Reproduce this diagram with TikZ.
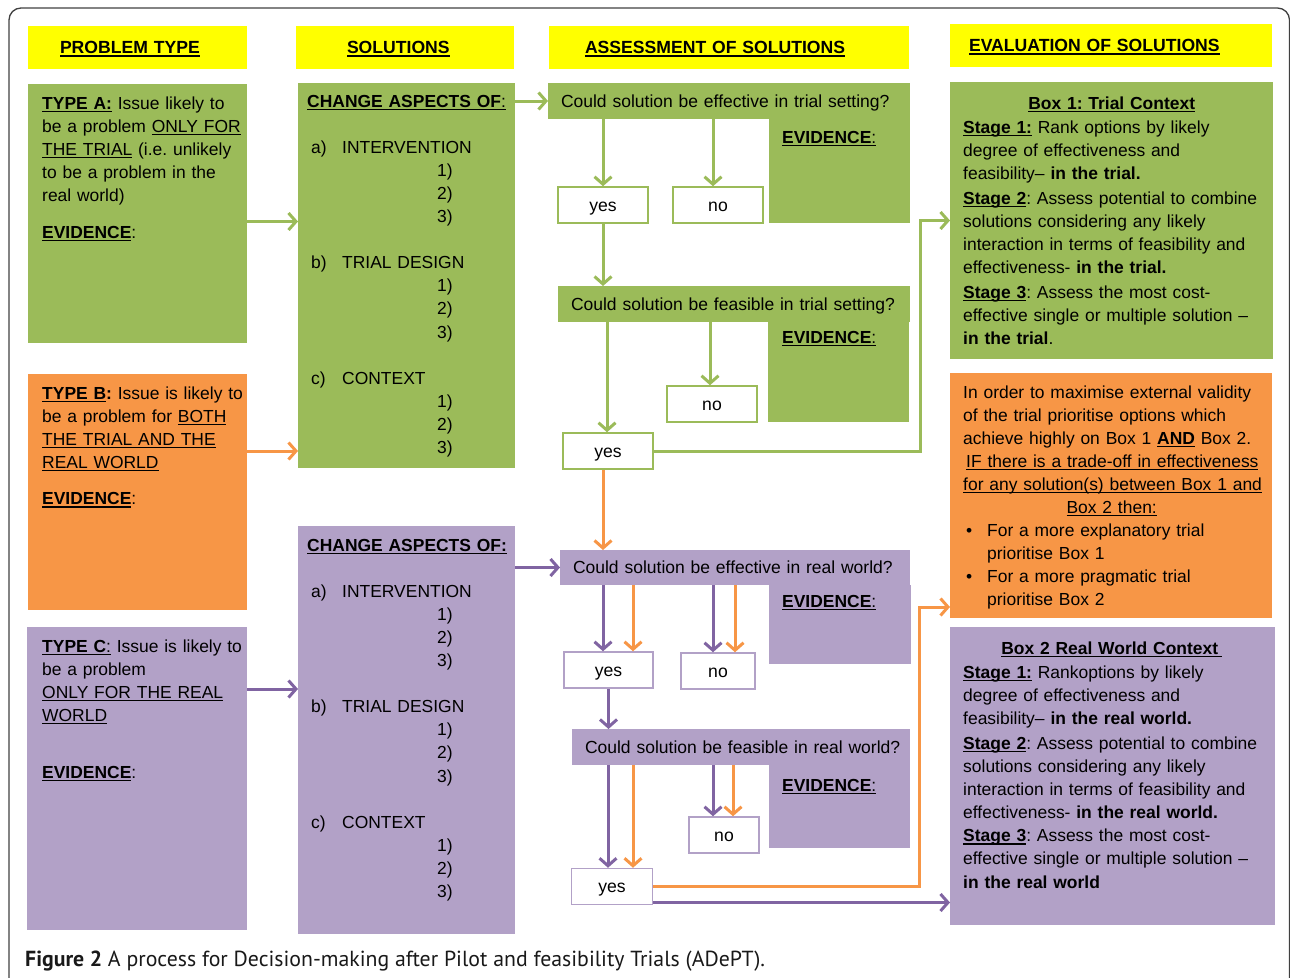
\documentclass[tikz,border=0pt]{standalone}
\usepackage{fontspec}
\setmainfont{Liberation Sans}
\newfontfamily\figcapfont{PT Sans}
\usetikzlibrary{arrows.meta}
\definecolor{trialgreen}{RGB}{155, 187, 89}
\definecolor{bothorange}{RGB}{247, 150, 70}
\definecolor{worldpurple}{RGB}{178, 161, 199}
\definecolor{worldarrow}{RGB}{128, 100, 162}
\definecolor{headyellow}{RGB}{255, 255, 0}

\newcommand{\uword}[1]{%
  \leavevmode\setbox0\hbox{#1}\rlap{\rule[-2.8pt]{\wd0}{1.3pt}}\box0\relax}
\newcommand{\aspectlist}[2]{%
  \hspace*{4pt}\makebox[31pt][l]{#1}#2\\
  \hspace*{130pt}1)\\
  \hspace*{130pt}2)\\
  \hspace*{130pt}3)}

\tikzstyle{panel} = [anchor=north west, inner sep=0pt, outer sep=0pt]
\tikzstyle{header} = [
  panel,
  fill=headyellow,
  minimum height=43pt,
  text height=12.6pt,
  text depth=0pt,
  align=left,
  font=\fontsize{17.6}{21}\selectfont\bfseries,
]
\tikzstyle{question} = [
  panel,
  minimum height=36pt,
  text height=12.6pt,
  text depth=0pt,
  inner xsep=13pt,
  align=left,
  font=\fontsize{17.5}{21}\selectfont,
]
\tikzstyle{bodytext} = [
  anchor=base west,
  inner sep=0pt,
  align=left,
  font=\fontsize{17.45}{23.1}\selectfont,
]
\tikzstyle{answer} = [
  fill=white,
  line width=1.5pt,
  minimum height=36pt,
  text height=12.6pt,
  text depth=0.4pt,
  inner sep=0pt,
  font=\fontsize{17.6}{21}\selectfont,
]
\tikzstyle{flow} = [line width=3pt, -{Straight Barb[length=7.5pt, width=17pt]}]

\begin{document}
\frenchspacing
\begin{tikzpicture}[x=1pt, y=-1pt]
            \useasboundingbox (0,0) rectangle (1290,977);

            % Frame
            \begin{scope}
                \clip (0,0) rectangle (1290,977);
                \draw[line width=1.3pt, black!75, rounded corners=12pt] (9,8) rectangle (1289.5,1000);
            \end{scope}

            % Column headers
            \node[header, text width=219pt] (headProblem) at (28,26) {\hspace*{32pt}\uword{PROBLEM TYPE}};
            \node[header, text width=218pt] (headSolution) at (296,26) {\hspace*{51pt}\uword{SOLUTIONS}};
            \node[header, text width=360pt] (headAssess) at (549,26) {\hspace*{36pt}\uword{ASSESSMENT OF SOLUTIONS}};
            \node[header, text width=322pt] (headEval) at (950,24) {\hspace*{19pt}\uword{EVALUATION OF SOLUTIONS}};

            % Problem types
            \node[panel, fill=trialgreen, minimum width=219pt, minimum height=259pt] (typeA) at (28,84) {};
            \node[panel, fill=bothorange, minimum width=219pt, minimum height=236pt] (typeB) at (28,374) {};
            \node[panel, fill=worldpurple, minimum width=220pt, minimum height=303pt] (typeC) at (27,627) {};

            \node[bodytext, text width=240pt] (typeAtext) at (42,109) {%
              \uword{\textbf{TYPE A:}} Issue likely to\\
              be a problem \uword{ONLY FOR}\\
              \uword{THE TRIAL} (i.e. unlikely\\
              to be a problem in the\\
              real world)\\[13.5pt]
              \uword{\textbf{EVIDENCE}}:};
            \node[bodytext, text width=240pt] (typeBtext) at (42,399) {%
              \uword{\textbf{TYPE B}}\textbf{:} Issue is likely to\\
              be a problem for \uword{BOTH}\\
              \uword{THE TRIAL AND THE}\\
              \uword{REAL WORLD}\\[13.5pt]
              \uword{\textbf{EVIDENCE}}:};
            \node[bodytext, text width=240pt] (typeCtext) at (42,652) {%
              \uword{\textbf{TYPE C}:} Issue is likely to\\
              be a problem\\
              \uword{ONLY FOR THE REAL}\\
              \uword{WORLD}\\[34pt]
              \uword{\textbf{EVIDENCE}}:};

            % Solutions
            \node[panel, fill=trialgreen, minimum width=217pt, minimum height=385pt] (solTrial) at (298,83) {};
            \node[panel, fill=worldpurple, minimum width=217pt, minimum height=408pt] (solWorld) at (298,526) {};

            \node[bodytext, text width=205pt] (solTrialtext) at (307,107) {%
              \uword{\textbf{CHANGE ASPECTS OF}:}\\[23.1pt]
              \aspectlist{a)}{INTERVENTION}\\[23.1pt]
              \aspectlist{b)}{TRIAL DESIGN}\\[23.1pt]
              \aspectlist{c)}{CONTEXT}};
            \node[bodytext, text width=205pt] (solWorldtext) at (307,551) {%
              \uword{\textbf{CHANGE ASPECTS OF:}}\\[23.1pt]
              \aspectlist{a)}{INTERVENTION}\\[23.1pt]
              \aspectlist{b)}{TRIAL DESIGN}\\[23.1pt]
              \aspectlist{c)}{CONTEXT}};

            % Assessment questions
            \node[panel, fill=trialgreen, minimum width=141pt, minimum height=104pt] (evTrialA) at (769,119) {};
            \node[question, fill=trialgreen, text width=336pt] (qTrialA) at (548,83) {\mbox{Could solution be effective in trial setting?}};
            \node[bodytext] (evTrialAtext) at (782,143) {\uword{\textbf{EVIDENCE}:}};

            \node[panel, fill=trialgreen, minimum width=141pt, minimum height=100pt] (evTrialB) at (768,322) {};
            \node[question, fill=trialgreen, text width=326pt] (qTrialB) at (558,286) {\mbox{Could solution be feasible in trial setting?}};
            \node[bodytext] (evTrialBtext) at (782,343) {\uword{\textbf{EVIDENCE}:}};

            \node[panel, fill=worldpurple, minimum width=142pt, minimum height=79pt] (evWorldA) at (769,585) {};
            \node[question, fill=worldpurple, text width=324pt, minimum height=35pt] (qWorldA) at (560,550) {\mbox{Could solution be effective in real world?}};
            \node[bodytext] (evWorldAtext) at (782,607) {\uword{\textbf{EVIDENCE}:}};

            \node[panel, fill=worldpurple, minimum width=141pt, minimum height=83pt] (evWorldB) at (769,765) {};
            \node[question, fill=worldpurple, text width=312pt] (qWorldB) at (572,729) {\mbox{Could solution be feasible in real world?}};
            \node[bodytext] (evWorldBtext) at (782,791) {\uword{\textbf{EVIDENCE}:}};

            % Answers
            \node[answer, draw=trialgreen, minimum width=90pt] (yesTrialA) at (603,205) {yes};
            \node[answer, draw=trialgreen, minimum width=90pt] (noTrialA) at (718,205) {no};
            \node[answer, draw=trialgreen, minimum width=90pt] (noTrialB) at (712,404) {no};
            \node[answer, draw=trialgreen, minimum width=90pt] (yesTrialB) at (608,451) {yes};
            \node[answer, draw=worldpurple, minimum width=89pt] (yesWorldA) at (608.5,670) {yes};
            \node[answer, draw=worldpurple, minimum width=74pt] (noWorldA) at (718,671) {no};
            \node[answer, draw=worldpurple, minimum width=70pt] (noWorldB) at (724,835) {no};
            \node[answer, draw=worldpurple, minimum width=81pt] (yesWorldB) at (612,886.5) {yes};

            % Evaluation boxes
            \node[panel, fill=trialgreen, minimum width=323pt, minimum height=277pt] (boxTrial) at (950,82) {};
            \node[panel, fill=bothorange, minimum width=322pt, minimum height=245pt] (boxChoose) at (950,373) {};
            \node[panel, fill=worldpurple, minimum width=325pt, minimum height=298pt] (boxWorld) at (950,627) {};

            \node[bodytext, text width=310pt] (boxTrialtext) at (963,109) {%
              \makebox[297pt]{\uword{\textbf{Box 1: Trial Context}}}\\[1.5pt]
              \uword{\textbf{Stage 1:}} Rank options by likely\\
              degree of effectiveness and\\
              feasibility-- \textbf{in the trial.}\\[1.5pt]
              \uword{\textbf{Stage 2}}: Assess potential to combine\\
              solutions considering any likely\\
              interaction in terms of feasibility and\\
              effectiveness- \textbf{in the trial.}\\[1.5pt]
              \uword{\textbf{Stage 3}}: Assess the most cost-\\
              effective single or multiple solution --\\
              \textbf{in the trial}.};
            \node[bodytext, text width=310pt] (boxChoosetext) at (963,398) {%
              In order to maximise external validity\\
              of the trial prioritise options which\\
              achieve highly on Box 1 \uword{\textbf{AND}} Box 2.\\
              \hspace*{3pt}\uword{IF there is a trade-off in effectiveness}\\
              \uword{for any solution(s) between Box 1 and}\\
              \makebox[297pt]{\uword{Box 2 then:}}\\
              \makebox[24pt][l]{\hspace{3pt}\textbullet}For a more explanatory trial\\
              \hspace*{24pt}prioritise Box 1\\
              \makebox[24pt][l]{\hspace{3pt}\textbullet}For a more pragmatic trial\\
              \hspace*{24pt}prioritise Box 2};
            \node[bodytext, text width=310pt] (boxWorldtext) at (963,654) {%
              \makebox[297pt]{\uword{\textbf{Box 2 Real World Context}\hspace{4pt}}}\\[1.5pt]
              \uword{\textbf{Stage 1:}} Rankoptions by likely\\
              degree of effectiveness and\\
              feasibility-- \textbf{in the real world.}\\[1.5pt]
              \uword{\textbf{Stage 2}}: Assess potential to combine\\
              solutions considering any likely\\
              interaction in terms of feasibility and\\
              effectiveness- \textbf{in the real world.}\\
              \uword{\textbf{Stage 3}}: Assess the most cost-\\
              effective single or multiple solution --\\
              \textbf{in the real world}};

            % Problem types to solutions
            \draw[flow, trialgreen] ([yshift=-8pt]typeA.east) -- ([yshift=-8pt]typeA.east -| solTrial.west);
            \draw[flow, bothorange] ([yshift=41pt]typeB.east) -- ([yshift=41pt]typeB.east -| solTrial.west);
            \draw[flow, worldarrow] ([yshift=89.5pt]typeC.east) -- ([yshift=89.5pt]typeC.east -| solWorld.west);

            % Solutions to assessment
            \draw[flow, trialgreen] (qTrialA.west -| solTrial.east) -- (qTrialA.west);
            \draw[flow, worldarrow] (qWorldA.west -| solWorld.east) -- (qWorldA.west);

            % Trial setting
            \draw[flow, trialgreen] (yesTrialA.north |- qTrialA.south) -- (yesTrialA.north);
            \draw[flow, trialgreen] ([xshift=-5pt]noTrialA.north |- qTrialA.south) -- ([xshift=-5pt]noTrialA.north);
            \draw[flow, trialgreen] (yesTrialA.south) -- (yesTrialA.south |- qTrialB.north);
            \draw[flow, trialgreen] ([xshift=-2pt]noTrialB.north |- qTrialB.south) -- ([xshift=-2pt]noTrialB.north);
            \draw[flow, trialgreen] ([xshift=-1pt]yesTrialB.north |- qTrialB.south) -- ([xshift=-1pt]yesTrialB.north);
            \coordinate (trialTurn) at (920,0);
            \draw[flow, trialgreen] (yesTrialB.east) -- (yesTrialB.east -| trialTurn) |- (boxTrial.west);
            \draw[flow, bothorange] ([xshift=-5pt]yesTrialB.south) -- ([xshift=-5pt]yesTrialB.south |- qWorldA.north);

            % Real world
            \draw[flow, worldarrow] ([xshift=-5.5pt]yesWorldA.north |- qWorldA.south) -- ([xshift=-5.5pt]yesWorldA.north);
            \draw[flow, bothorange] ([xshift=24.5pt]yesWorldA.north |- qWorldA.south) -- ([xshift=24.5pt]yesWorldA.north);
            \draw[flow, worldarrow] ([xshift=-5pt]noWorldA.north |- qWorldA.south) -- ([xshift=-5pt]noWorldA.north);
            \draw[flow, bothorange] ([xshift=17pt]noWorldA.north |- qWorldA.south) -- ([xshift=17pt]noWorldA.north);
            \draw[flow, worldarrow] (yesWorldA.south) -- (yesWorldA.south |- qWorldB.north);
            \draw[flow, worldarrow] ([xshift=-11pt]noWorldB.north |- qWorldB.south) -- ([xshift=-11pt]noWorldB.north);
            \draw[flow, bothorange] ([xshift=9pt]noWorldB.north |- qWorldB.south) -- ([xshift=9pt]noWorldB.north);
            \draw[flow, worldarrow] ([xshift=-4pt]yesWorldB.north |- qWorldB.south) -- ([xshift=-4pt]yesWorldB.north);
            \draw[flow, bothorange] ([xshift=21pt]yesWorldB.north |- qWorldB.south) -- ([xshift=21pt]yesWorldB.north);
            \coordinate (worldTurn) at (919,0);
            \draw[flow, bothorange] (yesWorldB.east) -- (yesWorldB.east -| worldTurn) |- ([yshift=-111.5pt]boxChoose.west);
            \draw[flow, worldarrow] ([yshift=-16pt]yesWorldB.east) -- ([yshift=-16pt]yesWorldB.east -| boxWorld.west);

            % Caption
            \node[anchor=base west, inner sep=0pt, font=\figcapfont\fontsize{21.8}{26}\selectfont, text=black!90] (figCaption) at (25,966)
              {\textbf{Figure 2} A process for Decision-making after Pilot and feasibility Trials (ADePT).};
          \end{tikzpicture}
\end{document}
